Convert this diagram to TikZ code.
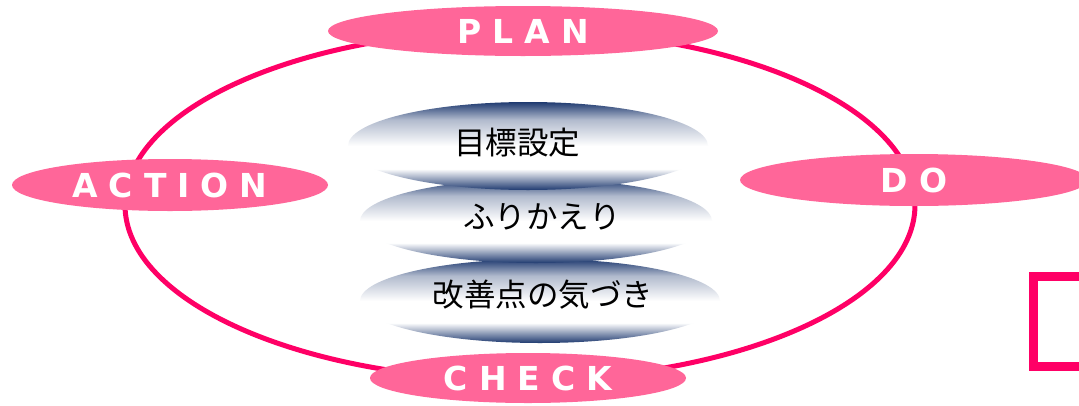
\documentclass[tikz,border=0pt]{standalone}
\usepackage{fontspec}
\usetikzlibrary{shapes.geometric}
\newfontfamily\jpfont{Noto Sans CJK JP}
\newfontfamily\labfont{DejaVu Sans}
\definecolor{cyc}{HTML}{FF0066}
\definecolor{labfill}{HTML}{FF6699}
\definecolor{navy}{RGB}{31,58,112}
\colorlet{navylight}{navy!35!white}
\pgfdeclareverticalshading{navywhite}{100bp}{color(0bp)=(navy); color(25bp)=(navy); color(37bp)=(white); color(50bp)=(white); color(65bp)=(navylight); color(75bp)=(navy); color(100bp)=(navy)}
\newcommand\lsp{\hspace{11pt}}
\tikzset{
  lab/.style={ellipse, fill=labfill, inner sep=0pt, text=white,
    font=\labfont\bfseries\fontsize{33}{36}\selectfont},
  grad/.style={ellipse, shading=navywhite, inner sep=0pt},
  jptext/.style={inner sep=0pt, text=black, font=\jpfont\fontsize{31.5}{36}\selectfont}
}
\begin{document}
\begin{tikzpicture}[x=1pt,y=-1pt]
\clip (0,0) rectangle (1079,405);
\fill[white] (0,0) rectangle (1079,405);
% cycle
\node[ellipse, draw=cyc, line width=5pt, minimum width=790pt, minimum height=350pt, inner sep=0pt] (cycle) at (520,205) {};
% labels
\node[lab, minimum width=390pt, minimum height=50pt] (plan) at (523,31) {P\lsp L\lsp A\lsp N};
\node[lab, minimum width=316pt, minimum height=52pt] (action) at (170,185) {A\lsp C\lsp T\lsp I\lsp O\lsp N};
\node[lab, minimum width=348pt, minimum height=52pt] (do) at (914,180) {D\lsp O};
\node[lab, minimum width=316pt, minimum height=50pt] (check) at (528,378) {C\lsp H\lsp E\lsp C\lsp K};
% gradient ellipses
\node[grad, minimum width=360pt, minimum height=84pt] (g3) at (540,301) {};
\node[grad, minimum width=352pt, minimum height=84pt] (g2) at (536,221) {};
\node[grad, minimum width=360pt, minimum height=88pt] (g1) at (528,146) {};
\node[jptext] (t1) at (517,143) {目標設定};
\node[jptext] (t2) at (542,217) {ふりかえり};
\node[jptext] (t3) at (543,295) {改善点の気づき};
% partial frame at right
\draw[cyc, line width=9pt] (1033.5,276.5) rectangle (1120,366.5);
\end{tikzpicture}
\end{document}
